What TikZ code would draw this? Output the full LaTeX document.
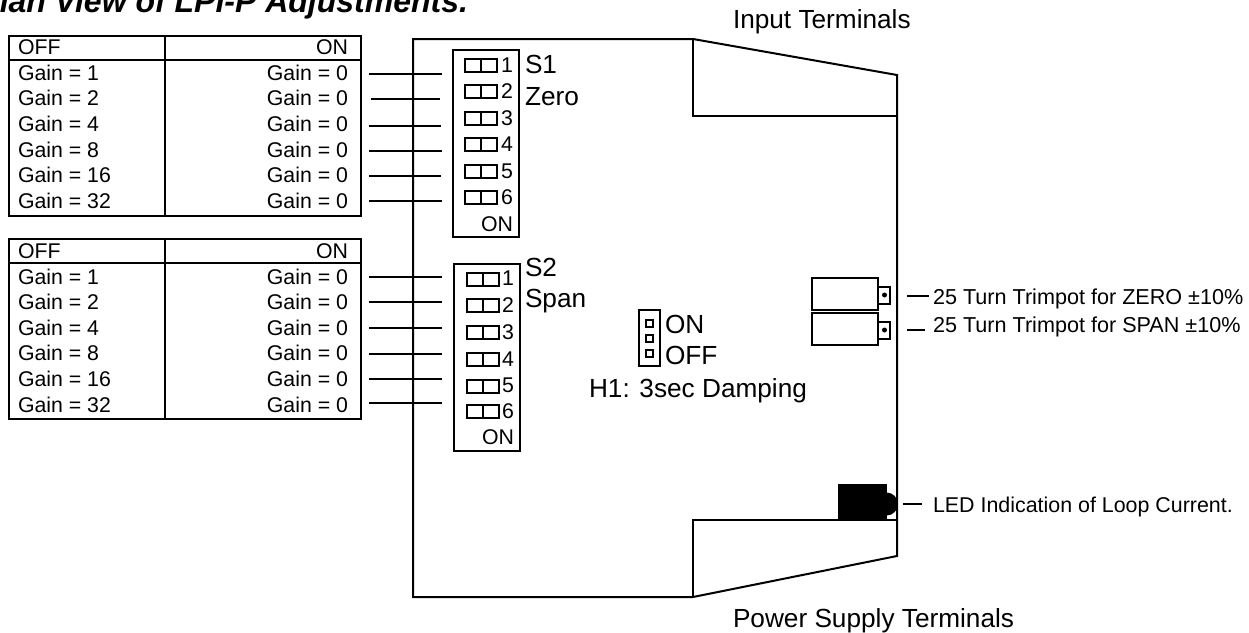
\documentclass[tikz,border=0pt]{standalone}
\usepackage{fontspec}
\setmainfont{Liberation Sans}
\tikzset{
    every node/.style={inner sep=0pt, outer sep=0pt},
    gain/.style={font=\fontsize{21.3}{21.3}\selectfont},
    big/.style={font=\fontsize{26.2}{26.2}\selectfont},
    note/.style={font=\fontsize{21.6}{21.6}\selectfont},
    box/.style={rectangle, draw, line width=2pt},
    dip/.style={box, minimum width=32pt, minimum height=13pt},
    pin/.style={box, minimum width=7pt, minimum height=7pt},
    lead/.style={line width=2pt}
}
\begin{document}
\begin{tikzpicture}[x=1pt, y=-1pt, line width=2pt]
    \useasboundingbox[clip] (0,0) rectangle (1249,632);

    % Title.
    \node[anchor=base east, font=\fontsize{32}{32}\selectfont\bfseries\itshape] (title) at (468,12) {Plan View of LPI-P Adjustments.};

    % Board outline.
    \draw (413,39) -- (693,39) -- (897,75) -- (897,556) -- (693,597) -- (413,597) -- cycle;
    \draw (693,39) -- (693,116) -- (897,116);
    \draw (693,597) -- (693,520) -- (897,520);
    \node[big, anchor=base west] (input) at (733,28) {Input Terminals};
    \node[big, anchor=base west] (power) at (733,627) {Power Supply Terminals};

    % First table.
    \node[box, minimum width=352pt, minimum height=180pt] (T_1) at (184.5,126) {};
    \coordinate (T_1-h) at (8.5,60);
    \coordinate (T_1-k) at (360.5,60);
    \coordinate (T_1-a) at (165,36);
    \coordinate (T_1-b) at (165,216);
    \draw (T_1-h) -- (T_1-k);
    \draw (T_1-a) -- (T_1-b);
    \node[gain, anchor=base west] (T_1-off) at (18,54) {OFF};
    \node[gain, anchor=base east] (T_1-on) at (348,54) {ON};
    \foreach \i/\g/\y/\t/\a/\b in {1/1/73.5/80/369/442, 2/2/98.5/105/371/440, 3/4/126/131/369/441, 4/8/151/157/369/442, 5/16/176/182/369/441, 6/32/201/208/369/442} {
        \node[gain, anchor=base west] (A_1-\i) at (18,\t) {Gain = \g};
        \node[gain, anchor=base east] (B_1-\i) at (348,\t) {Gain = 0};
        \coordinate (L_1-\i) at (\a,\y);
        \coordinate (R_1-\i) at (\b,\y);
        \draw[lead] (L_1-\i) -- (R_1-\i);
    }

    % Second table.
    \node[box, minimum width=352pt, minimum height=180pt] (T_2) at (185,329) {};
    \coordinate (T_2-h) at (9,263);
    \coordinate (T_2-k) at (361,263);
    \coordinate (T_2-a) at (165,239);
    \coordinate (T_2-b) at (165,419);
    \draw (T_2-h) -- (T_2-k);
    \draw (T_2-a) -- (T_2-b);
    \node[gain, anchor=base west] (T_2-off) at (18,258) {OFF};
    \node[gain, anchor=base east] (T_2-on) at (348,258) {ON};
    \foreach \i/\g/\y/\t in {1/1/277/284, 2/2/302/309, 3/4/328/335, 4/8/354/360, 5/16/379/386, 6/32/403/412} {
        \node[gain, anchor=base west] (A_2-\i) at (18,\t) {Gain = \g};
        \node[gain, anchor=base east] (B_2-\i) at (348,\t) {Gain = 0};
        \coordinate (L_2-\i) at (369,\y);
        \coordinate (R_2-\i) at (442,\y);
        \draw[lead] (L_2-\i) -- (R_2-\i);
    }

    % S1 switches.
    \node[box, minimum width=66pt, minimum height=187pt] (S_1) at (485.5,143.5) {};
    \foreach \i/\y in {1/65, 2/91, 3/118, 4/144, 5/171, 6/197} {
        \node[dip] (D_1-\i) at (481,\y) {};
        \draw (D_1-\i.north) -- (D_1-\i.south);
        \node[gain, anchor=base east] (N_1-\i) at (513,\y+7) {\i};
    }
    \node[gain, anchor=base east] (S_1-on) at (513,231) {ON};
    \node[big, anchor=base west] (S_1-name) at (525,73) {S1};
    \node[big, anchor=base west] (S_1-use) at (525,105) {Zero};

    % S2 switches.
    \node[box, minimum width=66pt, minimum height=187pt] (S_2) at (487,357.5) {};
    \foreach \i/\y in {1/279, 2/305.5, 3/332.5, 4/359.5, 5/386, 6/411.5} {
        \node[dip] (D_2-\i) at (482.5,\y) {};
        \draw (D_2-\i.north) -- (D_2-\i.south);
        \node[gain, anchor=base east] (N_2-\i) at (514,\y+6.5) {\i};
    }
    \node[gain, anchor=base east] (S_2-on) at (514,444) {ON};
    \node[big, anchor=base west] (S_2-name) at (525,276) {S2};
    \node[big, anchor=base west] (S_2-use) at (525,307) {Span};

    % Header H1.
    \node[box, minimum width=21pt, minimum height=56pt] (H_1) at (649.5,338) {};
    \foreach \i/\y in {1/323, 2/338, 3/353}
        \node[pin] (P-\i) at (649.5,\y) {};
    \node[big, anchor=base west] (H_1-on) at (665,333) {ON};
    \node[big, anchor=base west] (H_1-off) at (665,364) {OFF};
    \node[big, anchor=base] (H_1-name) at (698,397) {H1: 3sec Damping};

    % Trimpots.
    \foreach \i/\y/\d in {1/294/295, 2/329/330} {
        \node[box, minimum width=12pt, minimum height=17pt] (K-\i) at (884,\d) {};
        \node[box, fill=white, minimum width=66pt, minimum height=32pt] (Q-\i) at (845,\y) {};
        \node[circle, fill, minimum size=5pt] (W-\i) at (884.5,\d) {};
    }
    \coordinate (M_1-a) at (907,296);
    \coordinate (M_1-b) at (929,296);
    \coordinate (M_2-a) at (907,330);
    \coordinate (M_2-b) at (925,330);
    \draw[lead] (M_1-a) -- (M_1-b);
    \draw[lead] (M_2-a) -- (M_2-b);
    \node[note, anchor=base west] (M_1) at (933,304) {25 Turn Trimpot for ZERO ±10\%};
    \node[note, anchor=base west] (M_2) at (933,332) {25 Turn Trimpot for SPAN ±10\%};

    % LED.
    \node[rectangle, fill, minimum width=49pt, minimum height=36pt] (LED) at (862.5,502) {};
    \node[circle, fill, minimum size=23pt] (LED-tip) at (886.5,504) {};
    \coordinate (M_3-a) at (903,504);
    \coordinate (M_3-b) at (922,504);
    \draw[lead] (M_3-a) -- (M_3-b);
    \node[note, anchor=base west, font=\fontsize{21.4}{21.4}\selectfont] (M_3) at (933,512) {LED Indication of Loop Current.};
\end{tikzpicture}
\end{document}
